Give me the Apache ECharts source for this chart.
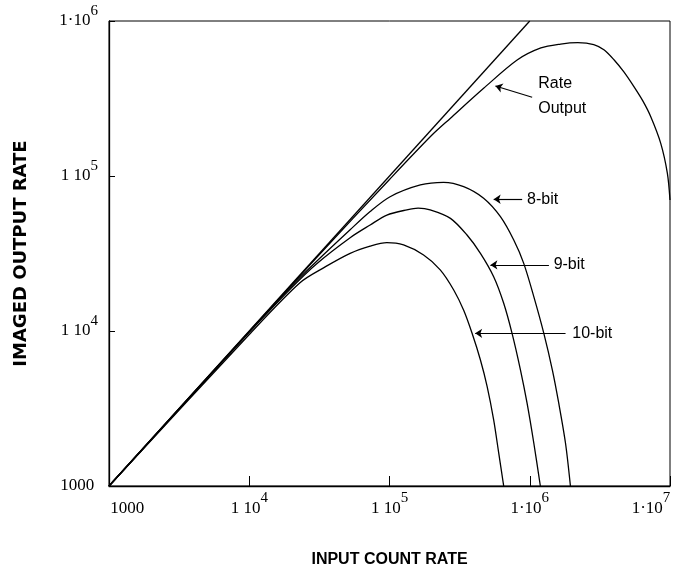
<!DOCTYPE html>
<html>
<head>
<meta charset="utf-8">
<script src="https://cdn.jsdelivr.net/npm/echarts@6/dist/echarts.min.js"></script>
<style>
  html, body { margin: 0; padding: 0; background: #fff; }
  #chart { width: 673px; height: 571px; }
</style>
</head>
<body>
<div id="chart"></div>
<script>
// tick labels, '^' marks the exponent
const xTickLabels = ['1000', '1 10^4', '1 10^5', '1·10^6', '1·10^7']
const yTickLabels = ['1000', '1 10^4', '1 10^5', '1·10^6']

// ideal line (output = input)
const idealIn = [1e3, 1e6]
const idealOut = [1e3, 1e6]

// rate output
const rateIn = [1e3, 1e4, 3e4, 1e5, 2e5, 2.72e5, 4.69e5, 8.13e5, 1.2e6, 1.66e6, 2.2e6,
  2.86e6, 3.4e6, 4e6, 4.69e6, 5.53e6, 6.4e6, 7.28e6, 8.58e6, 9.58e6, 1e7]
const rateOut = [1e3, 9950, 2.96e4, 9.5e4, 1.83e5, 2.36e5, 3.68e5, 5.6e5, 6.7e5, 7.1e5, 7.25e5,
  7.05e5, 6.5e5, 5.6e5, 4.69e5, 3.77e5, 3.05e5, 2.42e5, 1.63e5, 1.04e5, 7.0e4]

// 8-bit
const bit8In = [1e3, 1e4, 2e4, 3e4, 5.24e4, 7.28e4, 1.01e5, 1.66e5, 2.43e5, 3.38e5, 4.69e5,
  6.18e5, 7.69e5, 9.06e5, 1.07e6, 1.26e6, 1.45e6, 1.61e6, 1.8e6, 1.95e6]
const bit8Out = [1e3, 9.9e3, 1.95e4, 2.8e4, 4.5e4, 5.9e4, 7.35e4, 8.75e4, 9.1e4, 8.53e4, 7.18e4,
  5.46e4, 3.86e4, 2.73e4, 1.66e4, 9.66e3, 5.6e3, 3.42e3, 1.88e3, 1e3]

// 9-bit
const bit9In = [1e3, 1e4, 2e4, 3e4, 5.24e4, 7.28e4, 9.58e4, 1.33e5, 1.6e5, 1.95e5, 2.72e5, 3.57e5,
  4.45e5, 5.53e5, 6.52e5, 7.48e5, 8.59e5, 9.57e5, 1.07e6, 1.19e6]
const bit9Out = [1e3, 9.8e3, 1.9e4, 2.7e4, 4.0e4, 4.83e4, 5.6e4, 6.05e4, 6.2e4, 6.05e4, 5.33e4, 4.16e4,
  3.17e4, 2.24e4, 1.51e4, 9.66e3, 5.6e3, 3.42e3, 1.88e3, 1e3]

// 10-bit
const bit10In = [1e3, 1e4, 2.3e4, 3.5e4, 5.24e4, 7.28e4, 9.58e4, 1.26e5, 1.75e5, 2.3e5, 2.87e5,
  3.38e5, 3.88e5, 4.45e5, 4.97e5, 5.53e5, 6.01e5, 6.52e5]
const bit10Out = [1e3, 9.5e3, 2.05e4, 2.6e4, 3.17e4, 3.53e4, 3.72e4, 3.59e4, 3.09e4, 2.48e4, 1.84e4,
  1.36e4, 9.66e3, 6.5e3, 4.38e3, 2.67e3, 1.63e3, 1e3]

// annotations: text, where the text starts, arrow tail, arrow head
const noteText = ['Rate\nOutput', '8-bit', '9-bit', '10-bit']
const noteAt = [[1.15e6, 3.3e5], [9.57e5, 7.08e4], [1.48e6, 2.67e4], [2.01e6, 9.66e3]]
const arrowFrom = [[1.04e6, 3.22e5], [8.83e5, 7.08e4], [1.37e6, 2.67e4], [1.8e6, 9.66e3]]
const arrowTo = [[5.69e5, 3.81e5], [5.53e5, 7.08e4], [5.24e5, 2.67e4], [4.08e5, 9.66e3]]

const pairs = (xs, ys) => xs.map((x, i) => [x, ys[i]])

// on the x axis the end labels sit inside the frame, like the original
const tickFormatter = (labels, shiftEnds) => value => {
  const i = Math.round(Math.log10(value)) - 3
  const s = labels[i]
  if (!s) return ''
  const [base, exp] = s.split('^')
  let n = 'n', sup = 's'
  if (shiftEnds && i === 0) n = 'f'
  if (shiftEnds && i === labels.length - 1) sup = 'l'
  return '{' + n + '|' + base + '}{' + sup + '|' + (exp || ' ') + '}'
}

const tickRich = {
  n: { fontFamily: 'Liberation Serif', fontSize: 17, color: '#000' },
  f: { fontFamily: 'Liberation Serif', fontSize: 17, color: '#000', padding: [0, 0, 0, 40] },
  s: { fontFamily: 'Liberation Serif', fontSize: 15, color: '#000', padding: [0, 0, 20, 0] },
  l: { fontFamily: 'Liberation Serif', fontSize: 15, color: '#000', padding: [0, 38, 20, 0] },
}

const curve = (name, xs, ys, note) => {
  const s = {
    name,
    type: 'line',
    data: pairs(xs, ys),
    showSymbol: false,
    smooth: 0.3,
    lineStyle: { color: '#000', width: 1.3 },
    itemStyle: { color: '#000' },
  }
  if (note !== undefined) {
    s.markLine = {
      silent: true,
      symbol: ['none', 'arrow'],
      symbolSize: 7,
      lineStyle: { color: '#000', width: 1.2, type: 'solid' },
      label: { show: false },
      data: [[{ coord: arrowFrom[note] }, { coord: arrowTo[note] }]],
    }
    s.markPoint = {
      silent: true,
      symbol: 'circle',
      symbolSize: 0,
      label: {
        show: true,
        position: 'right',
        distance: 0,
        formatter: noteText[note],
        fontFamily: '"Liberation Sans", sans-serif',
        fontSize: 16,
        lineHeight: 25,
        color: '#000',
        align: 'left',
        verticalAlign: 'middle',
      },
      data: [{ coord: noteAt[note] }],
    }
  }
  return s
}

const chart = echarts.init(document.getElementById('chart'))
chart.setOption({
  backgroundColor: '#fff',
  animation: false,
  grid: {
    left: 109,
    right: 3,
    top: 21,
    bottom: 85,
    show: true,
    borderColor: '#000',
    borderWidth: 1,
    containLabel: false,
    outerBoundsMode: 'none',
  },
  xAxis: {
    type: 'log',
    logBase: 10,
    min: 1e3,
    max: 1e7,
    name: 'INPUT COUNT RATE',
    nameLocation: 'middle',
    nameGap: 66,
    nameMoveOverlap: false,
    nameTextStyle: {
      fontFamily: '"Liberation Sans", sans-serif',
      fontWeight: 'bold',
      fontSize: 16,
      color: '#000',
    },
    axisLine: { lineStyle: { color: '#000', width: 1.3 } },
    axisTick: { inside: true, length: 10, lineStyle: { color: '#000' } },
    minorTick: { show: false },
    splitLine: { show: false },
    axisLabel: {
      margin: 5,
      formatter: tickFormatter(xTickLabels, true),
      rich: tickRich,
    },
  },
  yAxis: {
    type: 'log',
    logBase: 10,
    min: 1e3,
    max: 1e6,
    name: 'IMAGED OUTPUT RATE',
    nameLocation: 'middle',
    nameRotate: 90,
    nameGap: 79,
    nameMoveOverlap: false,
    nameTextStyle: {
      fontFamily: '"DejaVu Sans"',
      fontWeight: 'bold',
      fontSize: 18,
      color: '#000',
    },
    axisLine: { lineStyle: { color: '#000', width: 1.3 } },
    axisTick: { inside: true, length: 6, lineStyle: { color: '#000' } },
    minorTick: { show: false },
    splitLine: { show: false },
    axisLabel: {
      margin: 11,
      formatter: tickFormatter(yTickLabels, false),
      rich: tickRich,
    },
  },
  series: [
    curve('Ideal', idealIn, idealOut),
    curve('Rate Output', rateIn, rateOut, 0),
    curve('8-bit', bit8In, bit8Out, 1),
    curve('9-bit', bit9In, bit9Out, 2),
    curve('10-bit', bit10In, bit10Out, 3),
  ],
})
</script>
</body>
</html>
